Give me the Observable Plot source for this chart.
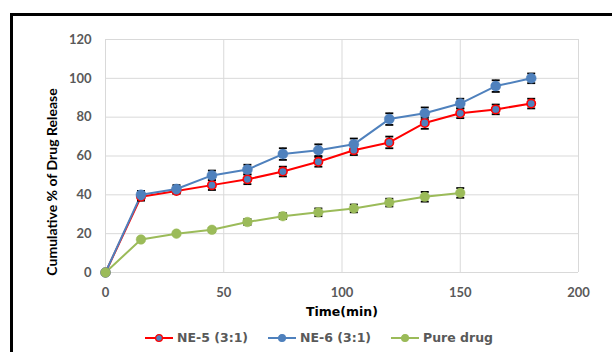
<!DOCTYPE html>
<html>
<head>
<meta charset="utf-8">
<script src="https://cdn.jsdelivr.net/npm/d3@7"></script>
<script src="https://cdn.jsdelivr.net/npm/@observablehq/plot@0.6"></script>
<style>
  html, body { margin: 0; padding: 0; background: #fff; }
  #wrap { position: relative; width: 612px; height: 352px; overflow: hidden; background: #fff; }
  #frame { position: absolute; left: 10px; top: 13px; width: 700px; height: 500px; border: 3px solid #000; box-sizing: border-box; pointer-events: none; }
  #chart { position: absolute; left: 0; top: 0; }
  #legend { position: absolute; left: 0; top: 328px; width: 612px; height: 20px; font-family: "DejaVu Sans", sans-serif; font-size: 12.5px; font-weight: bold; color: #595959; }
  .item { position: absolute; top: 0; display: flex; align-items: center; height: 19px; white-space: nowrap; }
  .item svg { margin-right: 4px; }
</style>
</head>
<body>
<div id="wrap">
  <div id="chart"></div>
  <div id="frame"></div>
  <div id="legend"></div>
</div>
<script>
// ---- data ----
const times = [0, 15, 30, 45, 60, 75, 90, 105, 120, 135, 150, 165, 180];
const ne5 = [0, 39, 42, 45, 48, 52, 57, 63, 67, 77, 82, 84, 87];
const ne5Err = [0, 2, 1.5, 2.5, 2.5, 2.5, 2.5, 2.5, 3, 3, 2.5, 2.5, 2.5];
const ne6 = [0, 40, 43, 50, 53, 61, 63, 66, 79, 82, 87, 96, 100];
const ne6Err = [0, 2, 2, 2.5, 2.5, 3, 3, 3, 3, 3, 2.5, 3, 2.5];
const pureTimes = [0, 15, 30, 45, 60, 75, 90, 105, 120, 135, 150];
const pure = [0, 17, 20, 22, 26, 29, 31, 33, 36, 39, 41];
const pureErr = [0, 0.5, 0.5, 1, 1.5, 1.5, 2, 2, 2, 2.5, 2.5];
const seriesNames = ["NE-5 (3:1)", "NE-6 (3:1)", "Pure drug"];
const xTicks = [0, 50, 100, 150, 200];
const yTicks = [0, 20, 40, 60, 80, 100, 120];
const xLabel = "Time(min)";
const yLabel = "Cumulative % of Drug Release";

const rows = (xs, ys, es) => xs.map((x, i) => ({x, y: ys[i], e: es[i]}));
const d5 = rows(times, ne5, ne5Err);
const d6 = rows(times, ne6, ne6Err);
const dp = rows(pureTimes, pure, pureErr);

const RED = "#FF0000", BLUE = "#4F81BD", GREEN = "#9BBB59";

const cap = { draw(ctx) { ctx.moveTo(-4, 0); ctx.lineTo(4, 0); } };

function errMarks(d) {
  const f = d.filter(r => r.e > 0);
  return [
    Plot.ruleX(f, {x: "x", y1: r => r.y - r.e, y2: r => r.y + r.e, stroke: "#000", strokeWidth: 1.6}),
    Plot.dot(f, {x: "x", y: r => r.y + r.e, symbol: cap, stroke: "#000", strokeWidth: 1.8, r: 4}),
    Plot.dot(f, {x: "x", y: r => r.y - r.e, symbol: cap, stroke: "#000", strokeWidth: 1.8, r: 4})
  ];
}

const chart = Plot.plot({
  width: 612,
  height: 352,
  marginTop: 39,
  marginBottom: 80,
  marginLeft: 105,
  marginRight: 34,
  style: {background: "transparent", overflow: "visible"},
  x: {domain: [0, 200]},
  y: {domain: [0, 120]},
  marks: [
    Plot.gridX(xTicks, {stroke: "#D9D9D9", strokeOpacity: 1, strokeWidth: 1}),
    Plot.gridY(yTicks, {stroke: "#D9D9D9", strokeOpacity: 1, strokeWidth: 1}),
    Plot.axisX(xTicks, {tickSize: 0, tickPadding: 15, label: null, fontSize: 13, fontWeight: "bold", fill: "#595959", fontFamily: "Lato"}),
    Plot.axisY(yTicks, {tickSize: 0, tickPadding: 14, label: null, fontSize: 13, fontWeight: "bold", fill: "#595959", fontFamily: "Lato"}),
    Plot.text([xLabel], {frameAnchor: "bottom", dy: 39, lineAnchor: "middle", fontSize: 12.5, fontWeight: "bold", fill: "#000", fontFamily: "DejaVu Sans"}),
    Plot.text([yLabel], {frameAnchor: "left", dx: -53, dy: 26, rotate: -90, textAnchor: "middle", lineAnchor: "middle", fontSize: 14, fontWeight: "bold", fill: "#000", fontFamily: "Lato"}),
    Plot.line(d5, {x: "x", y: "y", stroke: RED, strokeWidth: 2}),
    Plot.line(d6, {x: "x", y: "y", stroke: BLUE, strokeWidth: 2}),
    Plot.line(dp, {x: "x", y: "y", stroke: GREEN, strokeWidth: 2}),
    ...errMarks(d5), ...errMarks(d6), ...errMarks(dp),
    Plot.dot(d5, {x: "x", y: "y", r: 4.2, fill: BLUE, stroke: RED, strokeWidth: 1.6}),
    Plot.dot(d6, {x: "x", y: "y", r: 5, fill: BLUE, stroke: BLUE, strokeWidth: 0.5}),
    Plot.dot(dp, {x: "x", y: "y", r: 4.8, fill: GREEN, stroke: GREEN, strokeWidth: 0.5})
  ]
});
document.getElementById("chart").appendChild(chart);

// legend
const legend = document.getElementById("legend");
const legendItems = [
  {name: seriesNames[0], color: RED, fill: BLUE, left: 145},
  {name: seriesNames[1], color: BLUE, fill: BLUE, left: 268},
  {name: seriesNames[2], color: GREEN, fill: GREEN, left: 391}
];
for (const it of legendItems) {
  const div = document.createElement("div");
  div.className = "item";
  div.style.left = it.left + "px";
  div.innerHTML = `<svg width="28" height="10"><line x1="0" y1="5" x2="28" y2="5" stroke="${it.color}" stroke-width="2"/><circle cx="14" cy="5" r="3.4" fill="${it.fill}" stroke="${it.color}" stroke-width="1.3"/></svg><span>${it.name}</span>`;
  legend.appendChild(div);
}
</script>
</body>
</html>
